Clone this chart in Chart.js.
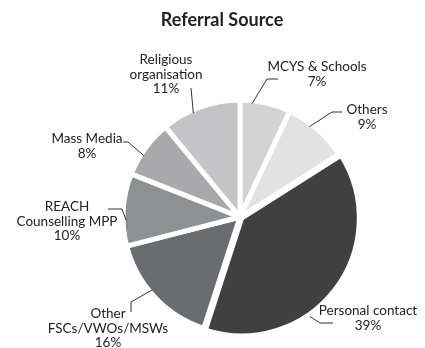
<!DOCTYPE html>
<html>
<head>
<meta charset="utf-8">
<script src="https://cdn.jsdelivr.net/npm/chart.js@4"></script>
<style>
  html, body { margin: 0; padding: 0; background: #fff; }
  #wrap { width: 425px; height: 348px; }
</style>
</head>
<body>
<div id="wrap"><canvas id="referralChart" width="425" height="348"></canvas></div>
<script>
// Referral sources, clockwise from 12 o'clock
const categories = ['MCYS & Schools', 'Others', 'Personal contact', 'Other FSCs/VWOs/MSWs',
                    'REACH Counselling MPP', 'Mass Media', 'Religious organisation'];
const shares = [7, 9, 39, 16, 10, 8, 11];
// how each category name is broken over lines
const labelLines = [['MCYS & Schools'], ['Others'], ['Personal contact'], ['Other', 'FSCs/VWOs/MSWs'],
                    ['REACH', 'Counselling MPP'], ['Mass Media'], ['Religious', 'organisation']];

const sliceColors = ['#d3d3d4', '#e2e2e3', '#404040', '#6b6c6f', '#8f9093', '#a9a9ab', '#c4c4c6'];
const sliceOffsets = [0, 0, 8, 0, 0, 0, 0];

// label placement: text centre, leader elbow, leader end near text, spot on the rim (fraction of slice)
const labelLayout = [
    { x: 317, y: 67,  elbow: [267, 79],  end: [278, 79],  at: 0.24 },
    { x: 367, y: 110, elbow: [332, 112], end: [342, 112], at: 0.38 },
    { x: 368, y: 311, elbow: [320, 323], end: [333, 323], at: 0.63 },
    { x: 108, y: 314, elbow: [131, 302], end: [131, 312], at: 0.56 },
    { x: 67,  y: 207, elbow: [122, 209], end: [108, 209], at: 0.36 },
    { x: 87,  y: 139, elbow: [128, 142], end: [123, 142], at: 0.38 },
    { x: 166, y: 60,  elbow: [191, 88],  end: [191, 88],  at: 0.39 }
];

const FONT = 'Lato, "Liberation Sans", sans-serif';

// draws the title, the outside labels and their leader lines
const outsideLabels = {
    id: 'outsideLabels',
    afterDatasetsDraw(chart) {
        const ctx = chart.ctx;
        const meta = chart.getDatasetMeta(0);
        ctx.save();

        ctx.fillStyle = '#222';
        ctx.textAlign = 'center';
        ctx.textBaseline = 'middle';
        ctx.font = 'bold 18px ' + FONT;
        ctx.fillText('Referral Source', 222, 20);

        ctx.strokeStyle = '#333';
        ctx.lineWidth = 1;
        meta.data.forEach((arc, i) => {
            const p = arc.getProps(['x', 'y', 'startAngle', 'endAngle', 'outerRadius'], true);
            const lay = labelLayout[i];
            const mid = (p.startAngle + p.endAngle) / 2;
            const off = sliceOffsets[i];
            const a = p.startAngle + lay.at * (p.endAngle - p.startAngle);
            const r = p.outerRadius - 3;
            const ex = p.x + Math.cos(mid) * off + Math.cos(a) * r;
            const ey = p.y + Math.sin(mid) * off + Math.sin(a) * r;

            ctx.beginPath();
            ctx.moveTo(ex, ey);
            ctx.lineTo(lay.elbow[0], lay.elbow[1]);
            ctx.lineTo(lay.end[0], lay.end[1]);
            ctx.stroke();

            ctx.font = '13.5px ' + FONT;
            const lines = labelLines[i].concat([shares[i] + '%']);
            lines.forEach((t, k) => ctx.fillText(t, lay.x, lay.y + k * 14.5));
        });
        ctx.restore();
    }
};

const ctx = document.getElementById('referralChart').getContext('2d');
new Chart(ctx, {
    type: 'pie',
    data: {
        labels: categories,
        datasets: [{
            data: shares,
            backgroundColor: sliceColors,
            borderColor: '#ffffff',
            borderWidth: 5,
            offset: sliceOffsets
        }]
    },
    options: {
        responsive: false,
        animation: false,
        radius: 117,
        layout: { padding: { left: 55, right: 0, top: 86, bottom: 0 } },
        plugins: {
            legend: { display: false },
            tooltip: { enabled: false }
        }
    },
    plugins: [outsideLabels]
});
</script>
</body>
</html>
